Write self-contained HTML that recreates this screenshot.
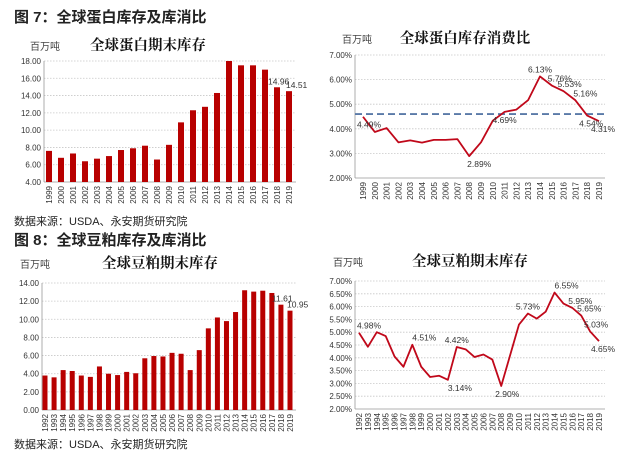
<!DOCTYPE html>
<html><head><meta charset="utf-8">
<style>
html,body{margin:0;padding:0;background:#fff;}
svg{display:block;font-family:"Liberation Sans","Noto Sans CJK SC",sans-serif;}
.h{font-size:15px;font-weight:bold;fill:#222;}
.t{font-size:14.5px;font-weight:bold;fill:#111;font-family:"Noto Serif CJK SC","Noto Sans CJK SC",serif;}
.u{font-size:10px;fill:#444;font-family:"Noto Sans CJK SC",sans-serif;}
.f{font-size:11px;fill:#222;}
.tk{font-size:8px;fill:#333;}
.lb{font-size:8.5px;fill:#333;}
</style></head>
<body>
<svg id="s" width="623" height="460" viewBox="0 0 623 460">
<text class="h" x="14" y="22">图 7：全球蛋白库存及库消比</text>
<text class="f" x="14" y="225">数据来源：USDA、永安期货研究院</text>
<text class="h" x="14" y="245">图 8：全球豆粕库存及库消比</text>
<text class="f" x="14" y="448">数据来源：USDA、永安期货研究院</text>
</svg>
<script>
// Chart 1: protein ending stocks
const years1 = ["1999","2000","2001","2002","2003","2004","2005","2006","2007","2008","2009","2010","2011","2012","2013","2014","2015","2016","2017","2018","2019"];
const stocks1 = [7.6,6.8,7.3,6.4,6.7,7.0,7.7,7.9,8.2,6.6,8.3,10.9,12.3,12.7,14.3,18.0,17.5,17.5,17.0,14.96,14.51];
const ticks1 = ["4.00","6.00","8.00","10.00","12.00","14.00","16.00","18.00"];
// Chart 2: protein stock/use ratio
const ratio2 = [4.49,3.87,4.03,3.45,3.53,3.44,3.55,3.55,3.58,2.89,3.45,4.33,4.69,4.78,5.17,6.13,5.76,5.53,5.16,4.54,4.31];
const avg2 = 4.6;
const ticks2 = ["2.00%","3.00%","4.00%","5.00%","6.00%","7.00%"];
const labels2 = {0:"4.49%",9:"2.89%",12:"4.69%",15:"6.13%",16:"5.76%",17:"5.53%",18:"5.16%",19:"4.54%",20:"4.31%"};
// Chart 3: soymeal ending stocks
const years3 = ["1992","1993","1994","1995","1996","1997","1998","1999","2000","2001","2002","2003","2004","2005","2006","2007","2008","2009","2010","2011","2012","2013","2014","2015","2016","2017","2018","2019"];
const stocks3 = [3.8,3.6,4.4,4.3,3.8,3.65,4.8,4.0,3.85,4.2,4.05,5.7,5.95,5.9,6.3,6.2,4.4,6.6,9.0,10.2,9.8,10.8,13.2,13.05,13.15,12.9,11.61,10.95];
const ticks3 = ["0.00","2.00","4.00","6.00","8.00","10.00","12.00","14.00"];
// Chart 4: soymeal stock/use ratio
const ratio4 = [4.98,4.43,5.0,4.85,4.05,3.65,4.51,3.65,3.25,3.3,3.14,4.42,4.33,4.03,4.13,3.93,2.90,4.1,5.3,5.73,5.53,5.8,6.55,6.12,5.95,5.65,5.03,4.65];
const ticks4 = ["2.00%","2.50%","3.00%","3.50%","4.00%","4.50%","5.00%","5.50%","6.00%","6.50%","7.00%"];
const labels4 = {0:"4.98%",6:"4.51%",10:"3.14%",11:"4.42%",16:"2.90%",19:"5.73%",22:"6.55%",24:"5.95%",25:"5.65%",26:"5.03%",27:"4.65%"};

const svg = document.getElementById('s');
const NS = "http://www.w3.org/2000/svg";
function mk(tag, attrs, parent){const e=document.createElementNS(NS,tag);for(const k in attrs)e.setAttribute(k,attrs[k]);(parent||svg).appendChild(e);return e;}

function chart(o){
  const g = mk('g',{});
  
  
  const tv = o.ticks.map(parseFloat);
  const ymin = tv[0], ymax = tv[tv.length-1];
  const y = v => o.y1 + (o.y0 - o.y1) * (ymax - v) / (ymax - ymin);
  const n = o.cats.length;
  const x = i => o.cx0 + (o.cx1 - o.cx0) * i / (n - 1);
  const t = mk('text',{class:'t',x:o.titleX,y:o.titleY,'text-anchor':'middle'},g); t.textContent=o.title;
  
  
  const u = mk('text',{class:'u',x:o.unitX,y:o.titleY},g); u.textContent='百万吨';
  
  
  o.ticks.forEach((lab,i)=>{
    const yy = y(tv[i]);
    if(i>0){const gl=mk('line',{x1:o.px0,x2:o.px1,y1:yy,y2:yy,stroke:'#c8c8c8','stroke-width':0.8,'stroke-dasharray':'1.5,1.5'},g);
      
      }
    const tx=mk('text',{class:'tk',x:o.px0-3,y:yy+3,'text-anchor':'end'},g); tx.textContent=lab;
    
    
  });
  const ax = mk('line',{x1:o.px0,x2:o.px1,y1:y(ymin),y2:y(ymin),stroke:'#999','stroke-width':0.8},g);
  
  
  const ay = mk('line',{x1:o.px0,x2:o.px0,y1:y(ymax),y2:y(ymin),stroke:'#999','stroke-width':0.8},g);
  
  
  o.cats.forEach((c,i)=>{
    const xx=x(i), yy=y(ymin)+4;
    const tx=mk('text',{class:'tk',x:xx+3,y:yy,'text-anchor':'end',transform:`rotate(-90 ${xx+3} ${yy})`},g); tx.textContent=c;
    
    
  });
  if(o.type==='bar'){
    o.vals.forEach((v,i)=>{
      const b=mk('rect',{x:x(i)-o.bw/2,y:y(v),width:o.bw,height:y(ymin)-y(v),fill:'#b80000'},g);
      
      
    });
    o.lastLabels.forEach(i=>{
      const l=mk('text',{class:'lb',x:x(i)+(i===n-1?-3:-9),y:y(o.vals[i])-3},g); l.textContent=o.vals[i].toFixed(2);
      
      
    });
  } else {
    if(o.avg!==undefined){
      const al=mk('line',{x1:o.px0,x2:o.px1,y1:y(o.avg),y2:y(o.avg),stroke:'#5a7aa8','stroke-width':1.8,'stroke-dasharray':'7,4'},g);
      
      
    }
    const p=mk('polyline',{points:o.vals.map((v,i)=>x(i)+','+y(v)).join(' '),fill:'none',stroke:'#c0081a','stroke-width':1.8,'stroke-linejoin':'round'},g);
    
    
    for(const k in o.labels){
      const i=+k, v=o.vals[i];
      const below = o.below.includes(i);
      const l=mk('text',{class:'lb',x:x(i)+(o.dx[i]||0),y:y(v)+(below?11:-4),'text-anchor':'middle'},g); l.textContent=o.labels[k];
      
      
    }
  }
}

chart({name:'protein-stocks-chart',type:'bar',cats:years1,vals:stocks1,ticks:ticks1,y0:182,y1:61,px0:44,px1:296,cx0:49,cx1:289,bw:6,
  title:'全球蛋白期末库存',titleX:148,titleY:50,unitX:30,lastLabels:[19,20]});
chart({name:'protein-ratio-chart',type:'line',cats:years1,vals:ratio2,ticks:ticks2,y0:178,y1:55,px0:355,px1:605,cx0:363,cx1:599,avg:avg2,
  title:'全球蛋白库存消费比',titleX:465,titleY:43,unitX:342,labels:labels2,below:[0,9,12,19,20],dx:{0:6,9:10,12:0,16:8,17:6,18:10,19:4,20:4}});
chart({name:'soymeal-stocks-chart',type:'bar',cats:years3,vals:stocks3,ticks:ticks3,y0:410,y1:283,px0:42,px1:296,cx0:45,cx1:290,bw:5,
  title:'全球豆粕期末库存',titleX:160,titleY:268,unitX:20,lastLabels:[26,27]});
chart({name:'soymeal-ratio-chart',type:'line',cats:years3,vals:ratio4,ticks:ticks4,y0:409,y1:281,px0:355,px1:605,cx0:359,cx1:599,
  title:'全球豆粕期末库存',titleX:470,titleY:266,unitX:333,labels:labels4,below:[10,16,27],dx:{0:10,6:12,10:12,11:0,16:6,19:0,22:12,24:8,25:8,26:6,27:4}});
</script>
</body></html>
